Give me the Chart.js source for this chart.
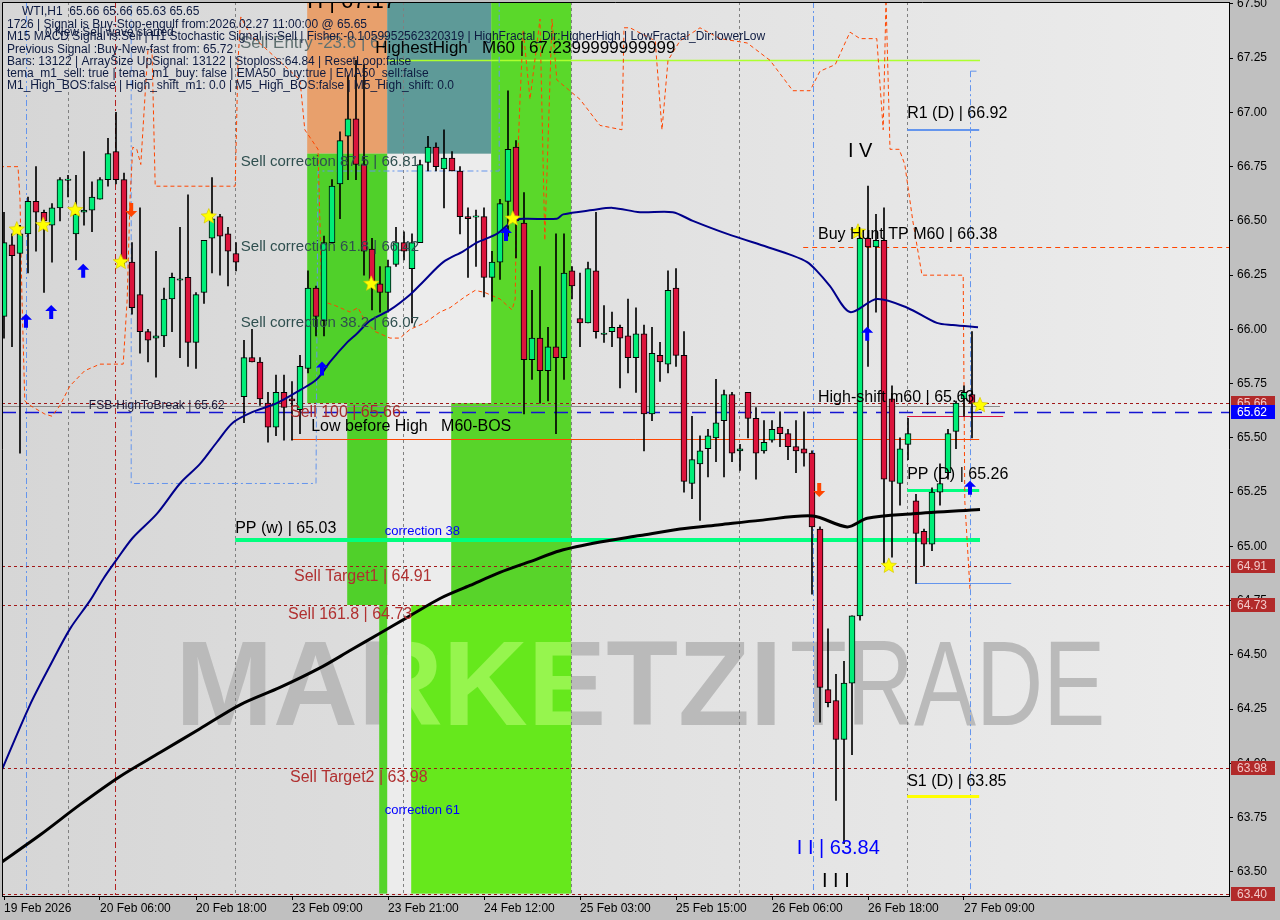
<!DOCTYPE html>
<html>
<head>
<meta charset="utf-8">
<title>WTI H1</title>
<script src="https://cdn.jsdelivr.net/npm/chart.js@4.4.1/dist/chart.umd.min.js"></script>
<style>
  html, body { margin: 0; padding: 0; background: #c0c0c0; }
  canvas { display: block; }
</style>
</head>
<body>
<canvas id="chart" width="1280" height="920"></canvas>
<script>
'use strict';

// time axis labels, one every 12 bars
var xLabels = ['19 Feb 2026', '20 Feb 06:00', '20 Feb 18:00', '23 Feb 09:00', '23 Feb 21:00',
  '24 Feb 12:00', '25 Feb 03:00', '25 Feb 15:00', '26 Feb 06:00', '26 Feb 18:00', '27 Feb 09:00'];
var xLabelStep = 12;

// price axis ticks
var yTicks = [63.50, 63.75, 64.00, 64.25, 64.50, 64.75, 65.00, 65.25, 65.50,
  65.75, 66.00, 66.25, 66.50, 66.75, 67.00, 67.25, 67.50];

// H1 candles, oldest first
var opens = [66.06, 66.39, 66.35, 66.44, 66.59, 66.54, 66.48, 66.56, 66.69, 66.44,
  66.54, 66.55, 66.60, 66.69, 66.82, 66.69, 66.31, 66.16, 65.99, 65.96,
  65.97, 66.14, 66.23, 66.24, 65.94, 66.17, 66.42, 66.52, 66.44, 66.35,
  65.69, 65.87, 65.85, 65.66, 65.55, 65.71, 65.68, 65.63, 65.82, 66.19,
  66.04, 66.40, 66.67, 66.89, 66.97, 66.76, 66.37, 66.21, 66.17, 66.30,
  66.40, 66.28, 66.40, 66.77, 66.84, 66.74, 66.79, 66.73, 66.52, 66.52,
  66.52, 66.24, 66.31, 66.59, 66.84, 66.49, 65.86, 65.96, 65.81, 65.92,
  65.87, 66.27, 66.05, 66.03, 66.27, 65.98, 65.99, 66.01, 65.97, 65.87,
  65.98, 65.61, 65.88, 65.84, 66.19, 65.88, 65.29, 65.38, 65.45, 65.50,
  65.58, 65.70, 65.44, 65.71, 65.59, 65.44, 65.49, 65.55, 65.52, 65.46,
  65.45, 65.43, 65.08, 64.34, 64.29, 64.11, 64.37, 64.68, 66.42, 66.38,
  66.41, 65.68, 65.29, 65.47, 65.21, 65.07, 65.01, 65.25, 65.34, 65.53,
  65.68, 65.70, 65.66];
var highs = [66.54, 66.44, 66.48, 66.61, 66.75, 66.55, 66.58, 66.70, 66.71, 66.71,
  66.82, 66.68, 66.70, 66.88, 67.00, 66.72, 66.40, 66.56, 66.00, 66.36,
  66.19, 66.26, 66.47, 66.62, 66.17, 66.41, 66.70, 66.53, 66.47, 66.40,
  65.95, 66.00, 65.87, 65.71, 65.79, 65.79, 65.76, 65.88, 66.27, 66.20,
  66.43, 66.69, 66.91, 67.17, 67.24, 67.22, 66.42, 66.29, 66.32, 66.47,
  66.45, 66.44, 66.78, 66.89, 66.86, 66.92, 66.82, 66.75, 66.56, 66.55,
  66.56, 66.36, 66.60, 67.10, 66.87, 66.63, 66.18, 66.29, 66.01, 66.44,
  66.44, 66.29, 66.26, 66.31, 66.54, 66.11, 66.08, 66.02, 66.14, 66.10,
  66.02, 66.01, 65.94, 66.27, 66.28, 65.99, 65.60, 65.51, 65.54, 65.77,
  65.72, 65.71, 65.47, 65.71, 65.64, 65.58, 65.58, 65.62, 65.54, 65.58,
  65.62, 65.44, 65.09, 64.62, 64.41, 64.47, 64.68, 66.46, 66.66, 66.53,
  66.56, 65.74, 65.50, 65.59, 65.24, 65.08, 65.27, 65.38, 65.54, 65.67,
  65.74, 65.99, 65.66];
var lows = [65.96, 65.92, 65.43, 66.26, 66.36, 66.17, 66.31, 66.50, 66.61, 66.32,
  66.48, 66.45, 66.60, 66.66, 66.67, 66.29, 66.07, 65.89, 65.85, 65.78,
  65.92, 65.99, 65.87, 65.83, 65.82, 66.12, 66.26, 66.25, 66.20, 66.27,
  65.57, 65.85, 65.65, 65.48, 65.51, 65.49, 65.49, 65.52, 65.80, 65.97,
  65.97, 66.40, 66.51, 66.69, 66.69, 66.25, 66.09, 66.08, 66.08, 66.29,
  66.32, 66.03, 66.40, 66.73, 66.73, 66.56, 66.73, 66.44, 66.24, 66.29,
  66.15, 66.13, 66.23, 66.43, 66.33, 65.61, 65.77, 65.66, 65.67, 65.52,
  65.77, 66.14, 65.92, 66.03, 65.96, 65.94, 65.92, 65.73, 65.80, 65.71,
  65.44, 65.58, 65.76, 65.80, 65.83, 65.25, 65.22, 65.12, 65.32, 65.39,
  65.32, 65.39, 65.35, 65.50, 65.31, 65.43, 65.48, 65.46, 65.40, 65.34,
  65.37, 64.78, 64.19, 64.26, 63.83, 63.63, 64.04, 64.66, 65.83, 66.08,
  64.92, 64.95, 65.19, 65.40, 64.83, 64.91, 64.98, 65.19, 65.31, 65.45,
  65.60, 65.50, 65.63];
var closes = [66.40, 66.34, 66.44, 66.59, 66.54, 66.50, 66.56, 66.69, 66.69, 66.53,
  66.55, 66.61, 66.69, 66.81, 66.69, 66.31, 66.10, 65.99, 65.95, 65.97,
  66.14, 66.24, 66.23, 65.94, 66.16, 66.41, 66.51, 66.43, 66.36, 66.31,
  65.87, 65.85, 65.68, 65.55, 65.71, 65.64, 65.67, 65.83, 66.19, 66.06,
  66.40, 66.66, 66.87, 66.97, 66.76, 66.36, 66.21, 66.17, 66.29, 66.40,
  66.36, 66.40, 66.76, 66.84, 66.75, 66.79, 66.73, 66.52, 66.51, 66.52,
  66.24, 66.31, 66.58, 66.83, 66.50, 65.86, 65.96, 65.81, 65.92, 65.87,
  66.26, 66.20, 66.03, 66.28, 65.99, 65.98, 66.01, 65.96, 65.87, 65.98,
  65.61, 65.89, 65.85, 66.18, 65.88, 65.30, 65.40, 65.44, 65.51, 65.57,
  65.70, 65.43, 65.45, 65.59, 65.43, 65.48, 65.54, 65.52, 65.46, 65.44,
  65.43, 65.09, 64.35, 64.28, 64.11, 64.37, 64.68, 66.42, 66.38, 66.41,
  65.31, 65.30, 65.45, 65.52, 65.06, 65.01, 65.25, 65.29, 65.52, 65.66,
  65.71, 65.66, 65.65];

// moving averages as [bar, price]
var emaFast = [[-0.5, 63.95], [3.25, 64.27], [5.75, 64.45], [8.25, 64.62], [10.75, 64.75],
  [12.4, 64.85], [14.1, 64.94], [16.1, 65.04], [19.1, 65.15], [22, 65.29], [24.5, 65.38],
  [26.6, 65.48], [28.6, 65.57], [31.1, 65.62], [34.1, 65.66], [37, 65.72], [39.1, 65.77],
  [40.75, 65.85], [42.9, 65.94], [44.1, 65.98], [45.75, 66.04], [48.25, 66.09], [50.75, 66.16],
  [52.4, 66.22], [54.9, 66.31], [57.4, 66.36], [59.1, 66.40], [61.6, 66.44], [63.6, 66.50],
  [64.9, 66.51], [69.1, 66.51], [69.9, 66.53], [73.6, 66.55], [76.1, 66.56], [79.5, 66.54],
  [83.6, 66.54], [86.1, 66.50], [90.4, 66.44], [95.4, 66.38], [98.6, 66.34], [100.4, 66.31],
  [101.6, 66.27], [103.25, 66.20], [105.75, 66.08], [109.1, 66.14], [112.9, 66.10],
  [116.6, 66.03], [118.6, 66.02], [121.75, 66.01]];
var emaSlow = [[-0.5, 63.54], [4.5, 63.67], [9.5, 63.81], [14.5, 63.94], [19.5, 64.05],
  [24.5, 64.16], [29.5, 64.27], [34.5, 64.35], [39.5, 64.44], [43.25, 64.52], [47, 64.60],
  [50.75, 64.68], [54.5, 64.76], [58.25, 64.82], [62, 64.88], [65.75, 64.93], [69.5, 64.98],
  [74.5, 65.02], [79.5, 65.05], [84.5, 65.08], [89.5, 65.10], [94.5, 65.12], [101.1, 65.14],
  [105.4, 65.09], [107.9, 65.13], [113.6, 65.15], [122, 65.17]];

// orange stepped envelope line
var envelope = [[-0.5, 66.75], [1.75, 66.75], [2, 66.60], [2.25, 66.14], [2.6, 65.67], [3.25, 65.65],
  [5.1, 65.61], [6, 65.60], [7, 65.65], [8.25, 65.74], [10.1, 65.81], [12, 65.84], [14.9, 65.84],
  [15.4, 66.14], [15.75, 66.60], [16.1, 66.84], [16.6, 66.83], [17.1, 66.76], [17.6, 67.06],
  [18, 67.29], [18.5, 67.29], [18.9, 66.66], [28.9, 66.66], [29.25, 67.24], [29.6, 67.44],
  [30.75, 67.36], [37, 67.15], [37.6, 66.92], [39.25, 66.83], [39.75, 66.13], [41.4, 66.11],
  [43.25, 66.08], [44.25, 66.10], [45.1, 66.04], [46.4, 65.99], [48.25, 65.96], [49.5, 65.96],
  [50.75, 66.00], [52.6, 66.03], [54.5, 66.08], [55.75, 66.10], [57.6, 66.15], [58.9, 66.18],
  [60.1, 66.17], [62, 66.14], [63.5, 66.09], [63.9, 66.14], [64.1, 66.67], [64.5, 67.06],
  [64.9, 67.38], [65.75, 67.06], [67, 67.43], [67.6, 66.41], [68.5, 67.43], [69.1, 67.15],
  [72, 67.06], [74.5, 66.94], [77.25, 66.92], [77.5, 67.39], [78.25, 67.39], [81.4, 67.33],
  [82.25, 66.92], [83, 67.24], [84.5, 67.33], [87, 67.39], [89.5, 67.34], [92.9, 67.32],
  [95.75, 67.24], [98.6, 67.10], [100.75, 67.10], [102, 67.19], [103.9, 67.22], [105.75, 67.37],
  [107, 67.34], [109.1, 67.34], [109.9, 66.92], [110.25, 67.52], [110.75, 66.83], [111.9, 66.83],
  [112.6, 66.76], [113.6, 66.50], [114.75, 66.25], [119.9, 66.25], [120.1, 65.21], [120.75, 64.80]];

// blue dashed stepped channel
var channel = [[15.9, 67.6], [15.9, 65.29], [39, 65.29], [39.25, 66.73], [61.9, 66.73], [61.9, 67.6]];

// signal markers [bar, price]
var stars = [[1.6, 66.46], [4.9, 66.48], [8.9, 66.55], [14.6, 66.31], [25.6, 66.52],
  [45.9, 66.21], [63.6, 66.51], [106.75, 66.45], [110.6, 64.91], [122, 65.65]];
var buyArrows = [[2.75, 66.04], [5.9, 66.08], [9.9, 66.27], [39.75, 65.82], [62.75, 66.44],
  [107.9, 65.98], [120.75, 65.27]];
var sellArrows = [[15.9, 66.55], [101.9, 65.26]];

// ---- annotation layout ----
var TOP = 67.7;
var zones = [
  { from: 47.9, to: 60.9, lo: 63.40, hi: 66.81, color: '#ececec' },
  { from: 37.9, to: 47.9, lo: 66.81, hi: TOP, color: '#e8a06c', entryText: true },
  { from: 47.9, to: 60.9, lo: 66.81, hi: TOP, color: '#5e9a98' },
  { from: 37.9, to: 47.9, lo: 65.66, hi: 66.81, color: '#50d02a' },
  { from: 42.9, to: 47.9, lo: 64.73, hi: 65.66, color: '#50d02a' },
  { from: 46.9, to: 47.9, lo: 63.40, hi: 64.73, color: '#55d42a' },
  { from: 60.9, to: 70.9, lo: 65.66, hi: TOP, color: '#5ad82a' },
  { from: 55.9, to: 70.9, lo: 64.73, hi: 65.66, color: '#58d42a' },
  { from: 50.9, to: 70.9, lo: 63.40, hi: 64.73, color: '#66e81c' }
];

var levels = [
  { p: 65.66, from: -1, to: 160, color: '#a01818', w: 1, dash: [3, 3] },
  { p: 64.91, from: -1, to: 160, color: '#a01818', w: 1, dash: [3, 3] },
  { p: 64.73, from: -1, to: 160, color: '#a01818', w: 1, dash: [3, 3] },
  { p: 63.98, from: -1, to: 160, color: '#a01818', w: 1, dash: [3, 3] },
  { p: 63.40, from: -1, to: 160, color: '#a01818', w: 1, dash: [3, 3] },
  { p: 65.647, from: -1, to: 124.5, color: '#8c8c8c', w: 1 },
  { p: 65.62, from: -1, to: 160, color: '#1414d2', w: 1.5, dash: [14, 9] },
  { p: 65.495, from: 35.9, to: 121.9, color: '#ff4500', w: 1 },
  { p: 65.60, from: 112.9, to: 124.9, color: '#dc143c', w: 1 },
  { p: 64.83, from: 113.9, to: 125.9, color: '#6495ed', w: 1 },
  { p: 67.24, from: 47.9, to: 122, color: '#adff2f', w: 1.5 },
  { p: 66.38, from: 99.9, to: 160, color: '#ff4500', w: 1, dash: [5, 4] },
  { p: 66.92, from: 112.9, to: 121.9, color: '#6495ed', w: 2 },
  { p: 65.26, from: 112.9, to: 121.9, color: '#00ff7f', w: 3 },
  { p: 65.03, from: 28.9, to: 122, color: '#00ff7f', w: 4 },
  { p: 63.85, from: 112.9, to: 121.9, color: '#ffff00', w: 3 }
];

var vlines = [
  { i: 8, color: '#808080', dash: [3, 3] },
  { i: 28.9, color: '#808080', dash: [3, 3] },
  { i: 49.9, color: '#808080', dash: [3, 3] },
  { i: 70.9, color: '#808080', dash: [3, 3] },
  { i: 91.9, color: '#808080', dash: [3, 3] },
  { i: 112.9, color: '#808080', dash: [3, 3] },
  { i: 13.9, color: '#b22222', dash: [6, 3, 2, 3] },
  { i: 2.75, color: '#6495ed', dash: [6, 3, 2, 3] },
  { i: 101.1, color: '#6495ed', dash: [6, 3, 2, 3] },
  { i: 120.75, color: '#6495ed', dash: [6, 3, 2, 3], top: 67.19 }
];

var F = "'Liberation Sans', Arial, sans-serif";
var texts = [
  { i: 29.6, p: 66.77, t: 'Sell correction 87.5 | 66.81', size: 15, color: '#2f4f4f' },
  { i: 29.6, p: 66.38, t: 'Sell correction 61.8 | 66.42', size: 15, color: '#2f4f4f' },
  { i: 29.6, p: 66.03, t: 'Sell correction 38.2 | 66.07', size: 15, color: '#2f4f4f' },
  { i: 10.6, p: 65.65, t: 'FSB-HighToBreak | 65.62', size: 12, color: '#1a1a3a' },
  { i: 35.75, p: 65.615, t: 'Sell 100 | 65.66', size: 16, color: '#a52a2a' },
  { i: 38.4, p: 65.55, t: 'Low before High   M60-BOS', size: 16, color: '#000' },
  { i: 28.9, p: 65.08, t: 'PP (w) | 65.03', size: 16, color: '#000' },
  { i: 47.6, p: 65.071, t: 'correction 38', size: 13, color: '#0000ff' },
  { i: 36.25, p: 64.859, t: 'Sell Target1 | 64.91', size: 16, color: '#b03030' },
  { i: 35.5, p: 64.684, t: 'Sell 161.8 | 64.73', size: 16, color: '#b03030' },
  { i: 35.75, p: 63.933, t: 'Sell Target2 | 63.98', size: 16, color: '#b03030' },
  { i: 47.6, p: 63.785, t: 'correction 61', size: 13, color: '#0000ff' },
  { i: 105.5, p: 66.818, t: 'I V', size: 20, color: '#000' },
  { i: 112.9, p: 66.993, t: 'R1 (D) | 66.92', size: 16, color: '#000' },
  { i: 101.75, p: 66.435, t: 'Buy Hunt TP M60 | 66.38', size: 16, color: '#000' },
  { i: 101.75, p: 65.684, t: 'High-shift m60 | 65.63', size: 16, color: '#000' },
  { i: 112.9, p: 65.329, t: 'PP (D) | 65.26', size: 16, color: '#000' },
  { i: 112.9, p: 63.914, t: 'S1 (D) | 63.85', size: 16, color: '#000' },
  { i: 99.1, p: 63.61, t: 'I I | 63.84', size: 20, color: '#0000ff' },
  { i: 102.25, p: 63.454, t: 'I I I', size: 20, color: '#000' },
  { i: 46.4, p: 67.297, t: 'HighestHigh   M60 | 67.2399999999999', size: 17, color: '#000' }
];

var infoLines = [
  { x: 22, y: 12, t: 'WTI,H1  65.66 65.66 65.63 65.65' },
  { x: 7, y: 25, t: '1726 | Signal is Buy-Stop-engulf from:2026.02.27 11:00:00 @ 65.65' },
  { x: 45, y: 33, t: '0 New Sell wave started' },
  { x: 7, y: 37, t: 'M15 MACD Signal is:Sell | H1 Stochastic Signal is:Sell | Fisher:-0.1059952562320319 | HighFractal_Dir:HigherHigh | LowFractal_Dir:lowerLow' },
  { x: 7, y: 50, t: 'Previous Signal :Buy-New-fast from: 65.72' },
  { x: 7, y: 62, t: 'Bars: 13122 | ArraySize UpSignal: 13122 | Stoploss:64.84 | ResetLoop:false' },
  { x: 7, y: 74, t: 'tema_m1_sell: true | tema_m1_buy: false | EMA50_buy:true | EMA50_sell:false' },
  { x: 7, y: 86, t: 'M1_High_BOS:false | High_shift_m1: 0.0 | M5_High_BOS:false | M5_High_shift: 0.0' }
];

var axisBoxes = [
  { p: 65.66, bg: '#b22a2a', fg: '#f2c8c8' },
  { p: 65.62, bg: '#0000ff', fg: '#ffffff' },
  { p: 64.91, bg: '#b22a2a', fg: '#f2c8c8' },
  { p: 64.73, bg: '#b22a2a', fg: '#f2c8c8' },
  { p: 63.98, bg: '#b22a2a', fg: '#f2c8c8' },
  { p: 63.40, bg: '#b22a2a', fg: '#f2c8c8' }
];

// ---- build chart datasets ----
var wickData = opens.map(function (o, i) { return { x: i, y: [lows[i], highs[i]] }; });
var bodyData = opens.map(function (o, i) {
  var lo = Math.min(o, closes[i]), hi = Math.max(o, closes[i]);
  if (hi - lo < 0.006) { lo -= 0.003; hi += 0.003; }
  return { x: i, y: [lo, hi] };
});
var bodyColors = opens.map(function (o, i) { return closes[i] >= o ? '#00ee78' : '#dc143c'; });

function toPoints(arr) { return arr.map(function (p) { return { x: p[0], y: p[1] }; }); }

function xp(chart, i) { return chart.scales.x.getPixelForValue(i); }
function yp(chart, p) { return chart.scales.y.getPixelForValue(p); }

function drawStar(ctx, x, y, r) {
  ctx.beginPath();
  for (var k = 0; k < 10; k++) {
    var rr = k % 2 ? r * 0.45 : r;
    var a = -Math.PI / 2 + k * Math.PI / 5;
    ctx.lineTo(x + rr * Math.cos(a), y + rr * Math.sin(a));
  }
  ctx.closePath();
  ctx.fillStyle = '#ffff00';
  ctx.fill();
  ctx.strokeStyle = '#d8c800';
  ctx.lineWidth = 0.7;
  ctx.stroke();
}

function drawArrow(ctx, x, y, up, color) {
  var d = up ? 1 : -1;
  ctx.fillStyle = color;
  ctx.beginPath();
  ctx.moveTo(x, y - 7 * d);
  ctx.lineTo(x + 6, y - 1 * d);
  ctx.lineTo(x + 2, y - 1 * d);
  ctx.lineTo(x + 2, y + 7 * d);
  ctx.lineTo(x - 2, y + 7 * d);
  ctx.lineTo(x - 2, y - 1 * d);
  ctx.lineTo(x - 6, y - 1 * d);
  ctx.closePath();
  ctx.fill();
}

function drawWatermark(ctx, a) {
  ctx.textAlign = 'left';
  ctx.textBaseline = 'alphabetic';
  ctx.font = 'bold 121px ' + F;
  ctx.fillText('MARKETZI', a.x1, a.base, a.w1);
  ctx.font = '121px ' + F;
  ctx.fillText('TRADE', a.x2, a.base, a.w2);
}

var mtPlugin = {
  id: 'mt4',
  beforeDraw: function (chart) {
    var ctx = chart.ctx, ca = chart.chartArea;
    ctx.save();
    ctx.fillStyle = '#c0c0c0';
    ctx.fillRect(0, 0, chart.width, chart.height);
    var g = ctx.createLinearGradient(ca.left, 0, ca.right, 0);
    g.addColorStop(0, '#d6d6d6');
    g.addColorStop(0.5, '#e1e1e1');
    g.addColorStop(1, '#ececec');
    ctx.fillStyle = g;
    ctx.fillRect(ca.left, ca.top, ca.right - ca.left, ca.bottom - ca.top);

    ctx.beginPath();
    ctx.rect(ca.left, ca.top, ca.right - ca.left, ca.bottom - ca.top);
    ctx.clip();

    // watermark
    var wm = { x1: xp(chart, 21.4), x2: xp(chart, 98.25), w1: 8 * 75.9, w2: 8 * 39.4, base: yp(chart, 64.177) };
    ctx.fillStyle = '#bababa';
    drawWatermark(ctx, wm);

    zones.forEach(function (z) {
      var x1 = xp(chart, z.from), x2 = xp(chart, z.to);
      var y1 = yp(chart, z.hi), y2 = yp(chart, z.lo);
      ctx.fillStyle = z.color;
      ctx.fillRect(x1, y1, x2 - x1, y2 - y1);
      if (z.entryText) {
        // this label sits over the orange zone but under the teal one
        ctx.font = '17px ' + F;
        ctx.fillStyle = '#5f7070';
        ctx.textAlign = 'left';
        ctx.textBaseline = 'middle';
        ctx.fillText('Sell Entry -23.6 | 67.51', xp(chart, 29.5), yp(chart, 67.32));
      }
    });

    // watermark shows lighter over the lime zone
    ctx.save();
    var fz = zones[zones.length - 1];
    ctx.beginPath();
    ctx.rect(xp(chart, fz.from), yp(chart, fz.hi), xp(chart, fz.to) - xp(chart, fz.from), yp(chart, fz.lo) - yp(chart, fz.hi));
    ctx.clip();
    ctx.fillStyle = 'rgba(190,255,120,0.55)';
    drawWatermark(ctx, wm);
    ctx.restore();
    ctx.restore();
  },
  beforeDatasetsDraw: function (chart) {
    var ctx = chart.ctx, ca = chart.chartArea;
    ctx.save();
    ctx.beginPath();
    ctx.rect(ca.left, ca.top, ca.right - ca.left, ca.bottom - ca.top);
    ctx.clip();
    vlines.forEach(function (v) {
      var x = Math.round(xp(chart, v.i)) + 0.5;
      ctx.strokeStyle = v.color;
      ctx.lineWidth = 1;
      ctx.setLineDash(v.dash);
      ctx.beginPath();
      ctx.moveTo(x, v.top ? yp(chart, v.top) : ca.top);
      ctx.lineTo(x, ca.bottom);
      ctx.stroke();
      if (v.top) {
        ctx.beginPath();
        ctx.moveTo(x, yp(chart, v.top));
        ctx.lineTo(x + 8, yp(chart, v.top));
        ctx.stroke();
      }
    });
    levels.forEach(function (l) {
      var y = Math.round(yp(chart, l.p)) + (l.w % 2 ? 0.5 : 0);
      ctx.strokeStyle = l.color;
      ctx.lineWidth = l.w;
      ctx.setLineDash(l.dash || []);
      ctx.beginPath();
      ctx.moveTo(Math.max(ca.left, xp(chart, l.from)), y);
      ctx.lineTo(Math.min(ca.right, xp(chart, l.to)), y);
      ctx.stroke();
    });
    ctx.restore();
  },
  afterDatasetsDraw: function (chart) {
    var ctx = chart.ctx, ca = chart.chartArea;
    ctx.save();
    ctx.beginPath();
    ctx.rect(ca.left, ca.top, ca.right - ca.left, ca.bottom - ca.top);
    ctx.clip();

    buyArrows.forEach(function (m) { drawArrow(ctx, xp(chart, m[0]), yp(chart, m[1]), true, '#0000ff'); });
    sellArrows.forEach(function (m) { drawArrow(ctx, xp(chart, m[0]), yp(chart, m[1]), false, '#ff4500'); });
    stars.forEach(function (m) { drawStar(ctx, xp(chart, m[0]), yp(chart, m[1]), 8); });

    ctx.textAlign = 'left';
    ctx.textBaseline = 'middle';
    texts.forEach(function (t) {
      ctx.font = t.size + 'px ' + F;
      ctx.fillStyle = t.color;
      ctx.fillText(t.t, xp(chart, t.i), yp(chart, t.p));
    });

    // high label cut by the top edge
    ctx.font = '22px ' + F;
    ctx.fillStyle = '#000';
    ctx.textBaseline = 'alphabetic';
    ctx.fillText('H | 67.17', xp(chart, 37.9), yp(chart, 67.48));

    ctx.font = '12px ' + F;
    ctx.fillStyle = '#0d1a40';
    ctx.textBaseline = 'middle';
    infoLines.forEach(function (l) { ctx.fillText(l.t, ca.left + l.x - 2, ca.top + l.y - 2); });
    ctx.restore();
  },
  afterDraw: function (chart) {
    var ctx = chart.ctx, ca = chart.chartArea;
    ctx.save();
    ctx.font = '12px ' + F;
    ctx.textAlign = 'left';
    ctx.textBaseline = 'middle';
    axisBoxes.forEach(function (b) {
      var y = Math.round(yp(chart, b.p));
      ctx.fillStyle = b.bg;
      ctx.fillRect(ca.right + 2, y - 7, 44, 14);
      ctx.fillStyle = b.fg;
      ctx.fillText(b.p.toFixed(2), ca.right + 8, y + 0.5);
    });
    // chart frame
    ctx.strokeStyle = '#000';
    ctx.lineWidth = 1;
    ctx.beginPath();
    ctx.moveTo(ca.left + 0.5, ca.bottom);
    ctx.lineTo(ca.left + 0.5, ca.top + 0.5);
    ctx.lineTo(ca.right, ca.top + 0.5);
    ctx.stroke();
    ctx.restore();
  }
};

Chart.defaults.font.family = F;

var ctx = document.getElementById('chart').getContext('2d');
new Chart(ctx, {
  type: 'bar',
  data: {
    datasets: [
      {
        type: 'line', data: toPoints(emaFast), borderColor: '#00008b', borderWidth: 2,
        pointRadius: 0, tension: 0.3, order: 0
      },
      {
        type: 'line', data: toPoints(emaSlow), borderColor: '#000000', borderWidth: 3,
        pointRadius: 0, tension: 0.3, order: 0
      },
      {
        type: 'line', data: toPoints(envelope), borderColor: '#ff4500', borderWidth: 1,
        borderDash: [4, 3], pointRadius: 0, tension: 0, order: 3
      },
      {
        type: 'line', data: toPoints(channel), borderColor: '#6495ed', borderWidth: 1,
        borderDash: [6, 3, 2, 3], pointRadius: 0, tension: 0, order: 3
      },
      {
        data: bodyData, backgroundColor: bodyColors, borderColor: '#000', borderWidth: 1,
        borderSkipped: false, barThickness: 6, grouped: false, order: 1
      },
      {
        data: wickData, backgroundColor: '#000', borderWidth: 0,
        barThickness: 1, grouped: false, order: 2
      }
    ]
  },
  options: {
    responsive: false,
    animation: false,
    events: [],
    layout: { padding: { left: 2, top: 2, right: 0, bottom: 0 } },
    plugins: { legend: { display: false }, tooltip: { enabled: false } },
    scales: {
      x: {
        type: 'linear', min: -0.25, max: 153.125, offset: false,
        grid: { offset: false, drawOnChartArea: false, drawTicks: true, tickLength: 4, color: '#000' },
        border: { display: true, color: '#000' },
        afterBuildTicks: function (s) {
          s.ticks = xLabels.map(function (t, k) { return { value: k * xLabelStep }; });
        },
        afterFit: function (s) {
          s.height = 24;
          s.paddingLeft = 0;
          s.paddingRight = 0;
        },
        ticks: {
          align: 'start', maxRotation: 0, autoSkip: false, padding: 1, color: '#000',
          font: { size: 12 },
          callback: function (v) { return xLabels[Math.round(v / xLabelStep)]; }
        }
      },
      y: {
        type: 'linear', position: 'right', min: 63.389, max: 67.5088,
        grid: { drawOnChartArea: false, drawTicks: true, tickLength: 4, color: '#000' },
        border: { display: true, color: '#000' },
        afterBuildTicks: function (s) {
          s.ticks = yTicks.map(function (v) { return { value: v }; });
        },
        afterFit: function (s) {
          s.width = 51;
          s.paddingTop = 0;
          s.paddingBottom = 0;
        },
        ticks: {
          padding: 4, color: '#000', font: { size: 12 },
          callback: function (v) { return v.toFixed(2); }
        }
      }
    }
  },
  plugins: [mtPlugin]
});
</script>
</body>
</html>
